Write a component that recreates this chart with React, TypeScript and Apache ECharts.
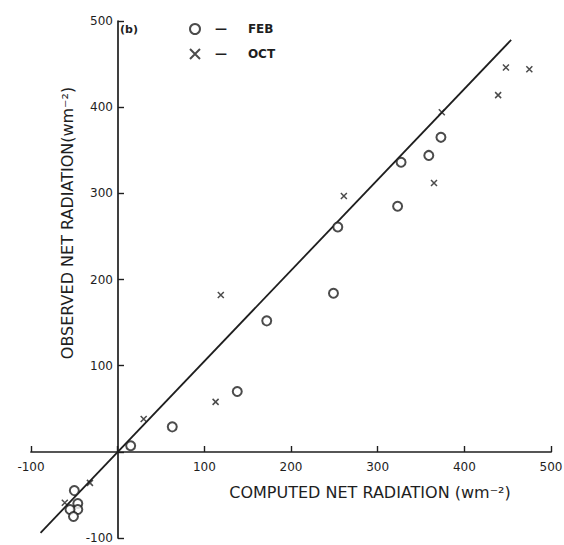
import React, { useEffect, useRef } from "react";
import * as echarts from "echarts";

const febComputed = [15, 63, 138, 172, 249, 254, 323, 327, 359, 373, -50, -46, -46, -55, -51];
const febObserved = [7, 29, 70, 152, 184, 261, 285, 336, 344, 365, -45, -60, -67, -67, -75];

const octComputed = [30, 113, 119, 261, 365, 374, 439, 448, 475, -32, -61];
const octObserved = [38, 58, 182, 297, 312, 394, 414, 446, 444, -36, -59];

const fitComputed = [-89, 454];
const fitObserved = [-94, 478];

const axisTicks = [-100, 0, 100, 200, 300, 400, 500];

const xName = "COMPUTED NET RADIATION (wm⁻²)";
const yName = "OBSERVED NET RADIATION(wm⁻²)";
const panelLabel = "(b)";

const INK = "#1e1e1e";
const FONT = "DejaVu Sans";

const W = 564;
const H = 545;
const G = { left: 31, right: 13, top: 21, bottom: 7 };

export default function App() {
  const ref = useRef<HTMLDivElement>(null);
  useEffect(() => {
    if (!ref.current) return;
    const chart = echarts.init(ref.current, null, { renderer: "svg" });
    const zip = (a: number[], b: number[]) => a.map((v, i) => [v, b[i]]);
    const lo = axisTicks[0];
    const hi = axisTicks[axisTicks.length - 1];
    const gw = W - G.left - G.right;
    const gh = H - G.top - G.bottom;
    // shift each axis from the grid edge to the other axis's zero
    const xOffset = -Math.round((gh * (0 - lo)) / (hi - lo));
    const yOffset = -Math.round((gw * (0 - lo)) / (hi - lo));
    const axisCommon = {
      type: "value" as const,
      min: lo,
      max: hi,
      interval: 100,
      splitLine: { show: false },
      axisLine: { show: true, onZero: false, lineStyle: { color: INK, width: 1.7 } },
      axisTick: { show: true, inside: true, length: 6, lineStyle: { color: INK, width: 1.4 } },
      axisLabel: {
        color: INK,
        fontFamily: FONT,
        fontSize: 12,
        formatter: (v: number) => (v === 0 ? "" : String(v)),
      },
    };
    chart.setOption({
      animation: false,
      backgroundColor: "#fff",
      grid: { ...G, containLabel: false, outerBoundsMode: "none" },
      xAxis: { ...axisCommon, offset: xOffset, axisLabel: { ...axisCommon.axisLabel, margin: 9 } },
      yAxis: { ...axisCommon, offset: yOffset, axisLabel: { ...axisCommon.axisLabel, margin: 5 } },
      legend: {
        orient: "vertical",
        left: 184,
        top: 18,
        itemGap: 13,
        itemWidth: 10,
        itemHeight: 10,
        data: ["FEB", "OCT"],
        formatter: (name: string) => "—     " + name,
        textStyle: { color: INK, fontFamily: FONT, fontSize: 12, fontWeight: "bold", padding: [0, 0, 0, 10] },
      },
      graphic: [
        {
          type: "text",
          left: 120,
          top: 24,
          style: { text: panelLabel, fill: INK, font: `bold 11px "${FONT}"` },
        },
        {
          type: "text",
          x: 370,
          y: 492,
          style: {
            text: xName,
            fill: INK,
            font: `16px "${FONT}"`,
            align: "center",
            verticalAlign: "middle",
          },
        },
        {
          type: "text",
          x: 67,
          y: 223,
          rotation: Math.PI / 2,
          style: {
            text: yName,
            fill: INK,
            font: `16px "${FONT}"`,
            align: "center",
            verticalAlign: "middle",
          },
        },
      ],
      series: [
        {
          name: "fit",
          type: "line",
          data: zip(fitComputed, fitObserved),
          symbol: "none",
          lineStyle: { color: INK, width: 1.8 },
          z: 1,
        },
        {
          name: "FEB",
          type: "scatter",
          data: zip(febComputed, febObserved),
          symbol: "emptyCircle",
          symbolSize: 9,
          itemStyle: { color: INK, borderColor: INK, borderWidth: 1.8 },
          z: 3,
        },
        {
          name: "OCT",
          type: "scatter",
          data: zip(octComputed, octObserved),
          symbol: "path://M0,0L10,10M10,0L0,10",
          symbolSize: 6,
          itemStyle: { color: "transparent", borderColor: INK, borderWidth: 1.5 },
          z: 3,
        },
      ],
    });
    return () => chart.dispose();
  }, []);
  return (
    <div
      ref={ref}
      style={{ position: "fixed", left: 0, top: 0, width: W, height: H, background: "#fff" }}
    />
  );
}
